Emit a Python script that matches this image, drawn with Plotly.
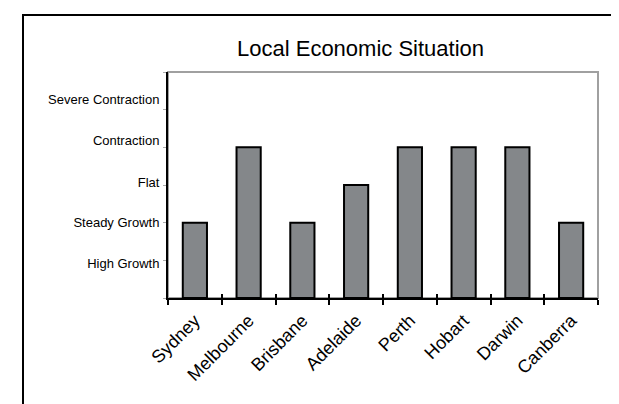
import plotly.graph_objects as go

cities = ["Sydney", "Melbourne", "Brisbane", "Adelaide", "Perth", "Hobart", "Darwin", "Canberra"]
situation = [2, 4, 2, 3, 4, 4, 4, 2]
level_labels = ["High Growth", "Steady Growth", "Flat", "Contraction", "Severe Contraction"]
level_positions = [0.93, 2.0, 3.08, 4.17, 5.28]

# page body has an 8px margin; figure pixel = reference pixel - 8
OFF = 8
W, H = 619 - OFF, 404 - OFF
PL, PR, PT, PB = 168, 598, 72, 298  # plot area edges in reference pixels
ML, MT = PL - OFF, PT - OFF
MR, MB = W - (PR - OFF), H - (PB - OFF)
pw, ph = PR - PL, PB - PT

def px_x(p):
    return (p - PL) / pw

def px_y(p):
    return (PB - p) / ph

fig = go.Figure()
fig.add_trace(go.Bar(
    x=cities, y=situation,
    marker=dict(color="#84878a", line=dict(color="black", width=2)),
    width=0.45, showlegend=False,
))
# invisible companion so the overlaid axis (inner half of the crossing ticks) is drawn
fig.add_trace(go.Bar(
    x=cities, y=situation, xaxis="x2",
    marker=dict(color="rgba(0,0,0,0)", line=dict(width=0)),
    width=0.45, showlegend=False, hoverinfo="skip",
))

font = "Arial, Liberation Sans, sans-serif"
fig.update_layout(
    width=W, height=H,
    margin=dict(l=ML, r=MR, t=MT, b=MB, pad=0),
    paper_bgcolor="white", plot_bgcolor="white",
    font=dict(family=font, color="black"),
    barmode="overlay",
    xaxis=dict(
        type="category", categoryorder="array", categoryarray=cities,
        range=[-0.5, len(cities) - 0.5],
        showline=True, linecolor="black", linewidth=2,
        ticks="outside", tickson="boundaries", ticklen=5, tickwidth=2, tickcolor="black",
        tickangle=-45, tickfont=dict(size=18, family=font, color="black"),
        ticklabelstandoff=3,
        showgrid=False, zeroline=False, fixedrange=True,
    ),
    xaxis2=dict(
        type="category", overlaying="x", side="bottom",
        categoryorder="array", categoryarray=cities,
        range=[-0.5, len(cities) - 0.5],
        anchor="y", showline=False, showgrid=False, zeroline=False,
        ticks="inside", tickson="boundaries", ticklen=4, tickwidth=2, tickcolor="black",
        showticklabels=False, fixedrange=True,
    ),
    yaxis=dict(
        range=[0, 6], showline=True, linecolor="black", linewidth=2,
        tickmode="array", tickvals=level_positions, ticktext=level_labels,
        ticks="", tickfont=dict(size=13, family=font, color="black"),
        ticklabelstandoff=4,
        minor=dict(tickmode="linear", tick0=0, dtick=1, ticks="outside", ticklen=3,
                   tickcolor="#aaaaaa", tickwidth=1, showgrid=False),
        showgrid=False, zeroline=False, fixedrange=True,
    ),
    shapes=[
        dict(type="rect", xref="paper", yref="paper", x0=0, y0=0, x1=1, y1=1,
             line=dict(color="#a0a0a0", width=2), layer="below"),
        dict(type="rect", xref="paper", yref="paper",
             x0=px_x(23), y0=px_y(440), x1=px_x(660), y1=px_y(15),
             line=dict(color="black", width=2), layer="below"),
    ],
    annotations=[
        dict(text="Local Economic Situation", xref="paper", yref="paper",
             x=px_x(360), y=px_y(49), xanchor="center", yanchor="middle",
             showarrow=False, font=dict(size=22, family=font, color="black")),
    ],
)

fig.write_html("out.html", config={"displayModeBar": False})
